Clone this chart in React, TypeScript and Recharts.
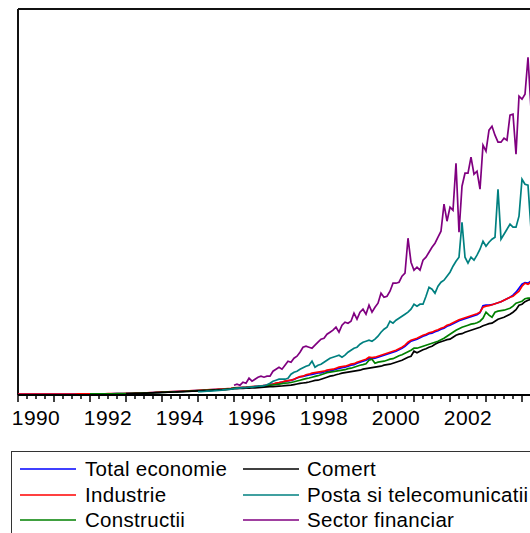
import { LineChart, Line, XAxis, YAxis, ReferenceLine } from 'recharts'

// Monthly wages by sector, thousand lei. Month index t = 0 is 1990:01.
const TOTAL_ECONOMIE = [
  3, 3, 3, 4, 4, 4, 4, 5, 5, 5, 6, 6,
  6, 7, 7, 8, 8, 9, 10, 10, 11, 12, 13, 14,
  14, 15, 16, 17, 18, 19, 21, 23, 25, 27, 29, 32,
  35, 38, 42, 46, 50, 55, 60, 66, 72, 79, 86, 94,
  102, 108, 113, 118, 124, 130, 137, 144, 151, 159, 167, 176,
  186, 193, 200, 208, 216, 224, 232, 241, 250, 260, 270, 282,
  305, 315, 325, 335, 345, 360, 370, 380, 390, 405, 425, 440,
  475, 500, 540, 565, 600, 640, 665, 690, 740, 810, 860, 890,
  925, 960, 990, 1025, 1060, 1070, 1110, 1150, 1165, 1205, 1250, 1290,
  1325, 1350, 1400, 1450, 1475, 1550, 1600, 1650, 1700, 1775, 1775, 1800,
  1850, 1900, 1950, 2000, 2050, 2100, 2150, 2225, 2300, 2400, 2525, 2650,
  2700, 2750, 2825, 2900, 2950, 3025, 3050, 3125, 3175, 3250, 3300, 3400,
  3450, 3525, 3600, 3675, 3725, 3775, 3825, 3875, 3925, 3975, 4075, 4425,
  4450, 4450, 4475, 4525, 4575, 4625, 4700, 4775, 4850, 4950, 5100, 5300,
  5500, 5575, 5550, 5650,
]

const INDUSTRIE = [
  3, 3, 4, 4, 4, 4, 5, 5, 5, 6, 6, 7,
  7, 8, 8, 9, 9, 10, 10, 11, 12, 13, 14, 15,
  16, 17, 18, 19, 20, 22, 24, 26, 28, 31, 33, 36,
  39, 42, 46, 50, 55, 60, 66, 72, 79, 86, 94, 102,
  110, 115, 120, 126, 132, 138, 145, 152, 160, 168, 177, 186,
  196, 203, 210, 218, 226, 234, 242, 251, 260, 270, 280, 292,
  315, 325, 335, 345, 355, 370, 380, 390, 400, 415, 435, 450,
  485, 510, 550, 575, 610, 650, 675, 700, 750, 825, 875, 900,
  975, 1000, 1050, 1075, 1100, 1125, 1150, 1200, 1225, 1250, 1300, 1350,
  1375, 1400, 1450, 1500, 1525, 1600, 1650, 1700, 1750, 1850, 1825, 1850,
  1900, 1950, 2000, 2050, 2100, 2150, 2200, 2275, 2350, 2450, 2600, 2700,
  2750, 2800, 2875, 2950, 3000, 3075, 3100, 3175, 3225, 3300, 3350, 3450,
  3500, 3575, 3650, 3725, 3775, 3825, 3875, 3925, 3975, 4025, 4100, 4350,
  4400, 4425, 4475, 4525, 4575, 4625, 4700, 4775, 4850, 4900, 5025, 5150,
  5400, 5550, 5500, 5600,
]

// from 1992:01
const CONSTRUCTII = [
  12, 13, 14, 15, 16, 17, 19, 20, 22, 24, 26, 29,
  32, 35, 38, 42, 46, 50, 55, 60, 66, 72, 79, 86,
  94, 100, 105, 110, 116, 122, 128, 135, 142, 150, 158, 166,
  175, 182, 189, 196, 203, 210, 218, 226, 235, 244, 254, 265,
  300, 305, 315, 325, 335, 345, 360, 370, 375, 395, 410, 430,
  450, 465, 485, 505, 525, 555, 560, 585, 620, 660, 700, 740,
  775, 810, 850, 890, 925, 975, 1025, 1075, 1100, 1125, 1150, 1175,
  1200, 1225, 1275, 1300, 1350, 1400, 1450, 1480, 1525, 1700, 1750, 1550,
  1600, 1625, 1650, 1700, 1750, 1775, 1850, 1925, 1975, 2050, 2125, 2200,
  2300, 2300, 2350, 2400, 2450, 2500, 2550, 2600, 2650, 2725, 2800, 2900,
  3000, 3100, 3200, 3275, 3350, 3400, 3450, 3500, 3525, 3575, 3650, 3800,
  4100, 3950, 3850, 4100, 4150, 4175, 4200, 4250, 4300, 4400, 4550, 4600,
  4650, 4775, 4800, 4800,
]

// from 1993:01
const COMERT = [
  28, 31, 34, 38, 42, 46, 51, 56, 62, 68, 74, 81,
  88, 94, 99, 104, 110, 116, 122, 128, 135, 142, 150, 158,
  166, 172, 178, 185, 192, 199, 206, 214, 222, 230, 240, 250,
  275, 280, 290, 295, 300, 305, 315, 320, 325, 340, 350, 365,
  375, 380, 390, 400, 410, 425, 440, 450, 480, 510, 540, 560,
  575, 610, 650, 690, 700, 750, 800, 850, 900, 925, 975, 1010,
  1050, 1075, 1100, 1125, 1150, 1175, 1200, 1250, 1275, 1300, 1325, 1350,
  1375, 1400, 1450, 1475, 1500, 1550, 1600, 1650, 1700, 1775, 1850, 1900,
  2150, 2075, 2150, 2225, 2275, 2350, 2400, 2500, 2575, 2625, 2675, 2725,
  2750, 2850, 2950, 3000, 3025, 3100, 3150, 3200, 3250, 3300, 3350, 3425,
  3475, 3525, 3550, 3650, 3750, 3800, 3850, 3925, 4000, 4100, 4225, 4450,
  4500, 4625, 4700, 4750,
]

// from 1995:01
const POSTA = [
  125, 125, 135, 150, 150, 160, 175, 185, 200, 225, 235, 250,
  275, 300, 300, 325, 325, 350, 350, 375, 400, 400, 425, 475,
  550, 650, 700, 750, 750, 750, 800, 1000, 1100, 1150, 1250, 1325,
  1400, 1450, 1650, 1350, 1450, 1500, 1600, 1700, 1800, 1850, 1900, 1950,
  1850, 1950, 2100, 2200, 2300, 2350, 2500, 2600, 2650, 2700, 2650, 2750,
  2900, 3100, 3250, 3350, 3650, 3550, 3700, 3800, 3900, 4000, 4100, 4250,
  4500, 4400, 4500, 4500, 4900, 5350, 5250, 5050, 5400, 5600, 5700, 5900,
  6100, 6400, 6650, 6850, 8600, 6850, 6550, 6850, 6700, 6950, 7250, 7650,
  7400, 7600, 7750, 7850, 10250, 7750, 8000, 8250, 8500, 8350, 8350, 8900,
  10750, 10500, 10450, 8250,
]

// from 1996:01
const SECTOR_FINANCIAR = [
  450, 500, 450, 600, 550, 800, 650, 750, 850, 900, 850, 900,
  900, 1150, 1250, 1350, 1250, 1450, 1650, 1600, 1800, 1900, 2100, 2350,
  2400, 2350, 2300, 2450, 2600, 2750, 2800, 3000, 3100, 3200, 3350, 3100,
  3450, 3600, 3550, 3650, 4050, 3750, 4100, 4250, 4000, 4450, 4100, 4350,
  4550, 5050, 4850, 4900, 5150, 5550, 5550, 5600, 5900, 6050, 7800, 6600,
  6200, 6350, 6200, 6700, 6850, 7100, 7350, 7550, 7850, 8150, 9500, 8650,
  9350, 9200, 11550, 8100, 10400, 11050, 11050, 11850, 11000, 11150, 10250, 12450,
  12150, 13200, 13400, 12950, 12600, 12600, 12800, 12700, 13950, 14000, 12000, 14900,
  14750, 15000, 16850, 14250,
]

const SERIES = [
  { key: 'total', name: 'Total economie', color: '#0000ff', start: 0, values: TOTAL_ECONOMIE },
  { key: 'industrie', name: 'Industrie', color: '#ff0000', start: 0, values: INDUSTRIE },
  { key: 'constructii', name: 'Constructii', color: '#008000', start: 24, values: CONSTRUCTII },
  { key: 'comert', name: 'Comert', color: '#000000', start: 36, values: COMERT },
  { key: 'posta', name: 'Posta si telecomunicatii', color: '#008080', start: 60, values: POSTA },
  { key: 'financiar', name: 'Sector financiar', color: '#800080', start: 72, values: SECTOR_FINANCIAR },
]

const FIRST_YEAR = 1990
const X_MAX = 180
const Y_DOMAIN: [number, number] = [-40, 19260]
const QUARTER_TICKS = Array.from({ length: X_MAX / 3 + 1 }, (_, i) => i * 3)
// labels every second year, centred in the year
const YEAR_LABEL_TICKS = [6, 30, 54, 78, 102, 126, 150]

const N_MONTHS = TOTAL_ECONOMIE.length
const data = Array.from({ length: N_MONTHS }, (_, t) => {
  const row: Record<string, number | null> = { t }
  for (const s of SERIES) {
    const i = t - s.start
    row[s.key] = i >= 0 && i < s.values.length ? s.values[i] : null
  }
  return row
})

const FONT = '"Liberation Sans", Arial, sans-serif'

function QuarterTick(props: any) {
  const { x, y, payload } = props
  const len = payload.value % 12 === 0 ? 7 : 4
  return <line x1={x} x2={x} y1={y} y2={y + len} stroke="#000" strokeWidth={1.5} />
}

// legend: first column holds the first three series, second column the rest
const LEGEND_ROW = 25.5

export default function App() {
  return (
    <div
      style={{
        position: 'fixed', left: 0, top: 0, width: 530, height: 533,
        overflow: 'hidden', background: '#fff', fontFamily: FONT,
      }}
    >
      <LineChart
        width={578}
        height={433}
        data={data}
        margin={{ top: 9, right: 20, bottom: 0, left: 18 }}
      >
        <XAxis
          xAxisId="time"
          dataKey="t"
          type="number"
          domain={[0, X_MAX]}
          allowDataOverflow
          ticks={QUARTER_TICKS}
          interval={0}
          height={8}
          tickLine={false}
          tickSize={0}
          tickMargin={0}
          tick={QuarterTick}
          axisLine={{ stroke: '#000', strokeWidth: 2 }}
        />
        <XAxis
          xAxisId="years"
          dataKey="t"
          type="number"
          domain={[0, X_MAX]}
          allowDataOverflow
          ticks={YEAR_LABEL_TICKS}
          interval={0}
          height={30}
          tickLine={false}
          axisLine={false}
          tickSize={0}
          tickMargin={7}
          tickFormatter={t => String(FIRST_YEAR + Math.floor(t / 12))}
          tick={{ fontSize: 21, fill: '#000', fontFamily: FONT, letterSpacing: 0.4 }}
        />
        <YAxis hide type="number" domain={Y_DOMAIN} allowDataOverflow />

        <ReferenceLine xAxisId="time" y={Y_DOMAIN[1]} stroke="#111" strokeWidth={2} />
        <ReferenceLine xAxisId="time" x={0} stroke="#111" strokeWidth={2} />

        {SERIES.map(s => (
          <Line
            key={s.key}
            xAxisId="time"
            dataKey={s.key}
            name={s.name}
            stroke={s.color}
            strokeWidth={1.7}
            dot={false}
            activeDot={false}
            isAnimationActive={false}
          />
        ))}
      </LineChart>

      <div
        style={{
          position: 'absolute', left: 11, top: 451, width: 600, height: 120,
          border: '1px solid #333', boxSizing: 'border-box',
        }}
      >
        {SERIES.map((s, i) => {
          const col = Math.floor(i / 3)
          const row = i % 3
          const left = col === 0 ? 8 : 231
          const top = 4.25 + row * LEGEND_ROW
          return (
            <div key={s.key} style={{ position: 'absolute', left, top, height: LEGEND_ROW, width: 400 }}>
              <svg width={56} height={LEGEND_ROW} style={{ position: 'absolute', left: 0, top: 0 }}>
                <line x1={0} x2={56} y1={13} y2={13} stroke={s.color} strokeWidth={1.5} />
              </svg>
              <span
                style={{
                  position: 'absolute', left: col === 0 ? 65 : 64, top: 0, fontSize: 20.5,
                  letterSpacing: 0.3, lineHeight: `${LEGEND_ROW}px`, color: '#000',
                  whiteSpace: 'nowrap',
                }}
              >
                {s.name}
              </span>
            </div>
          )
        })}
      </div>
    </div>
  )
}
